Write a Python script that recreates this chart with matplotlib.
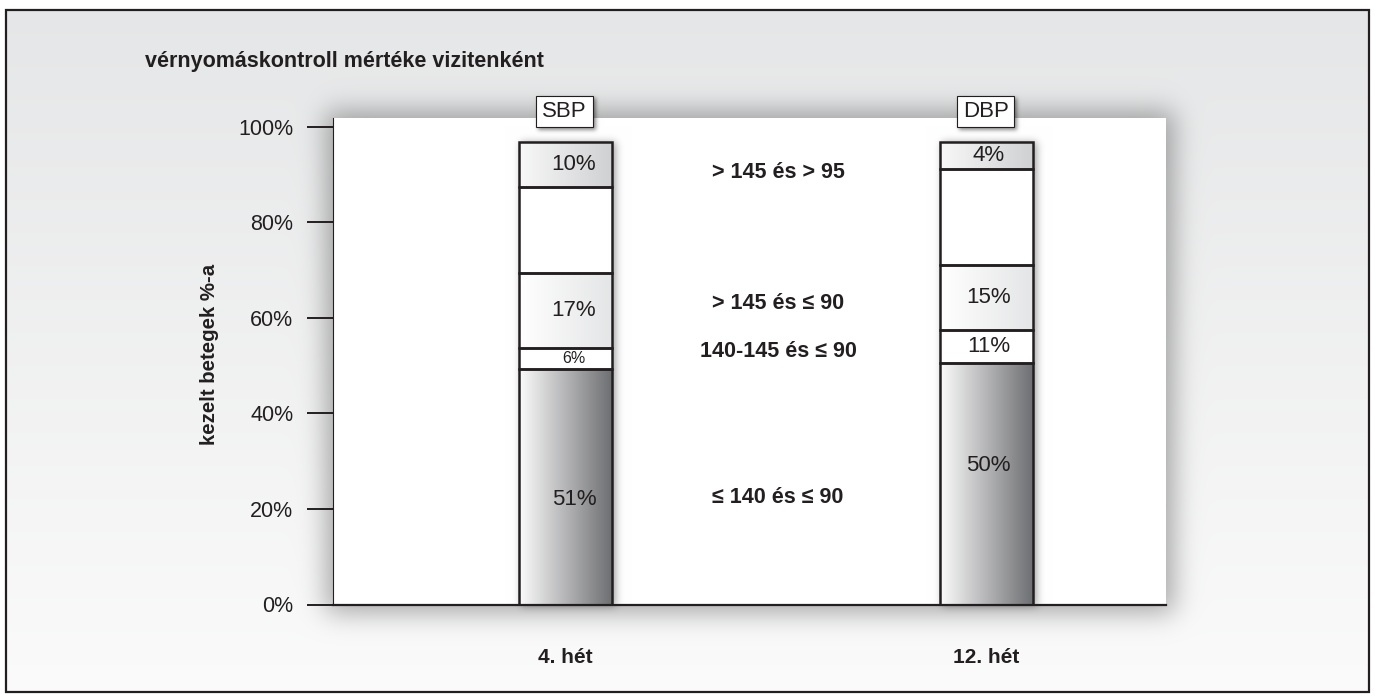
import numpy as np
import matplotlib.pyplot as plt
from matplotlib.patches import Rectangle

plt.rcParams['font.family'] = ['Liberation Sans', 'DejaVu Sans']

# data
weeks = ['4. hét', '12. hét']
series = ['SBP', 'DBP']
# stacked segments from bottom to top, % of patients as drawn
sbp = [49.3, 4.3, 15.7, 18.0, 9.4]
dbp = [50.5, 6.9, 13.6, 20.1, 5.6]
sbp_labels = ['51%', '6%', '17%', '', '10%']
dbp_labels = ['50%', '11%', '15%', '', '4%']
categories = ['≤ 140 és ≤ 90', '140-145 és ≤ 90', '> 145 és ≤ 90', '', '> 145 és > 95']
category_y = [22.3, 52.9, 62.9, None, 90.4]
bottom_label_y = [21.9, 29.0]
label_dx = [0.02, 0.005]
yticks = [0, 20, 40, 60, 80, 100]

ink = '#231f20'
seg_colors = [('#fbfbfb', '#6d6e71'), ('#ffffff', '#ffffff'), ('#ffffff', '#e4e5e6'),
              ('#ffffff', '#ffffff'), ('#f8f8f8', '#cfd0d2')]

W, H = 1375, 699
fig = plt.figure(figsize=(13.75, 6.99), dpi=100)
bg = fig.add_axes([0, 0, 1, 1], zorder=0)
bg.set_axis_off()
ax = fig.add_axes([333 / W, (H - 604.5) / H, (1166 - 333) / W, (604.5 - 118) / H], zorder=1)
ax.set_facecolor('none')
xlim = (-0.5523, 1.4264)
ylim = (0, 101.78)
ax.set_xlim(*xlim)
ax.set_ylim(*ylim)

x = np.arange(len(weeks))
width = 0.221
values = [sbp, dbp]
labels = [sbp_labels, dbp_labels]


def hexrgb(c):
    c = c.lstrip('#')
    return np.array([int(c[i:i + 2], 16) for i in (0, 2, 4)]) / 255.0


def soft1d(n, a, b, s):
    t = np.arange(n) + 0.5
    ind = ((t >= a) & (t < b)).astype(float)
    kx = np.arange(-int(4 * s), int(4 * s) + 1)
    k = np.exp(-0.5 * (kx / s) ** 2)
    k /= k.sum()
    return np.convolve(ind, k, mode='same')


def soft_rect(x0, x1, y0, y1, s):
    return np.outer(soft1d(H, y0, y1, s), soft1d(W, x0, x1, s))


def to_px(xd, yd):
    px, py = ax.transData.transform((xd, yd))
    return px, H - py


# background: vertical gradient + shadows + white plot area
top, bot = hexrgb('#e5e6e7'), hexrgb('#fbfbfb')
t = np.linspace(0, 1, H)[:, None, None]
img = np.ones((H, W, 3)) * (top + (bot - top) * t)

ax0, ay0 = to_px(xlim[0], ylim[0])
ax1, ay1 = to_px(xlim[1], ylim[1])
shadow = soft_rect(ax0 - 7, ax1 + 8, ay1 - 7, ay0 + 9, 13) * 0.32
img *= (1 - shadow)[..., None]
img[int(round(ay1)):int(round(ay0)), int(round(ax0)):int(round(ax1))] = 1.0

# bar shadows
for i in range(len(weeks)):
    bx0, by0 = to_px(x[i] - width / 2, 0)
    bx1, by1 = to_px(x[i] + width / 2, sum(values[i]))
    sh = soft_rect(bx0 + 2, bx1 + 4, by1, by0 + 2, 4) * 0.35
    img *= (1 - sh)[..., None]

# label boxes above the bars
box_w, box_lo, box_hi = 0.135, 99.9, 106.4
for i in range(len(weeks)):
    bx0, by0 = to_px(x[i] - box_w / 2 - 0.002, box_lo)
    bx1, by1 = to_px(x[i] + box_w / 2 - 0.002, box_hi)
    sh = soft_rect(bx0 + 2, bx1 + 3, by1 + 2, by0 + 3, 2) * 0.45
    img *= (1 - sh)[..., None]

# white outside the frame
img[:10, :] = 1
img[692:, :] = 1
img[:, :6] = 1
img[:, 1369:] = 1

bg.imshow(img, extent=(0, W, H, 0), aspect='auto', interpolation='bilinear')
bg.set_xlim(0, W)
bg.set_ylim(H, 0)
fig.add_artist(Rectangle((6 / W, 1 - 692 / H), (1369 - 6) / W, (692 - 10) / H,
                         transform=fig.transFigure, fill=False, lw=1.6, ec=ink))

# stacked bars with horizontal gradient fills
for i in range(len(weeks)):
    bottom = 0
    for j, v in enumerate(values[i]):
        c0, c1 = hexrgb(seg_colors[j][0]), hexrgb(seg_colors[j][1])
        u = np.linspace(0, 1, 128)[None, :, None]
        grad = c0 + (c1 - c0) * u
        ax.imshow(grad, extent=(x[i] - width / 2, x[i] + width / 2, bottom, bottom + v),
                  aspect='auto', interpolation='bilinear', zorder=1)
        ax.bar(x[i], v, width, bottom=bottom, facecolor='none', edgecolor=ink,
               linewidth=1.8, zorder=2)
        if labels[i][j]:
            ly = bottom_label_y[i] if j == 0 else bottom + v / 2
            ax.text(x[i] + label_dx[i], ly, labels[i][j], ha='center', va='center',
                    fontsize=11.5 if v < 5 else 16, color=ink, zorder=3)
        bottom += v

    ax.add_patch(Rectangle((x[i] - box_w / 2 - 0.002, box_lo), box_w, box_hi - box_lo,
                           facecolor='white', edgecolor=ink, lw=0.8, clip_on=False, zorder=4))
    ax.text(x[i] - 0.002, (box_lo + box_hi) / 2, series[i], ha='center', va='center',
            fontsize=16, color=ink, clip_on=False, zorder=5)

# category annotations between the bars
mid = x.mean()
for cat, cy in zip(categories, category_y):
    if cat:
        ax.text(mid + 0.005, cy, cat, ha='center', va='center', fontsize=15.5,
                fontweight='bold', color=ink, zorder=3)

ax.set_xlim(*xlim)
ax.set_ylim(*ylim)
ax.set_yticks(yticks)
ax.set_yticklabels([f'{v}%' for v in yticks], fontsize=15.5, color=ink)
ax.tick_params(axis='y', length=18.7, width=1.4, pad=10, color=ink)
ax.set_xticks(x)
ax.set_xticklabels(weeks, fontsize=15, fontweight='bold', color=ink)
ax.tick_params(axis='x', length=0, pad=31)
for s in ['top', 'right']:
    ax.spines[s].set_visible(False)
ax.spines['left'].set_linewidth(0.8)
ax.spines['left'].set_color(ink)
ax.spines['bottom'].set_linewidth(1.6)
ax.spines['bottom'].set_color(ink)
ax.set_ylabel('kezelt betegek %-a', fontsize=14.7, fontweight='bold', color=ink)
ax.yaxis.set_label_coords(-0.137, 0.515)

fig.text(145 / W, 1 - 62 / H, 'vérnyomáskontroll mértéke vizitenként', ha='left',
         va='center', fontsize=15.5, fontweight='bold', color=ink)

fig.savefig('out.png', dpi=100)
